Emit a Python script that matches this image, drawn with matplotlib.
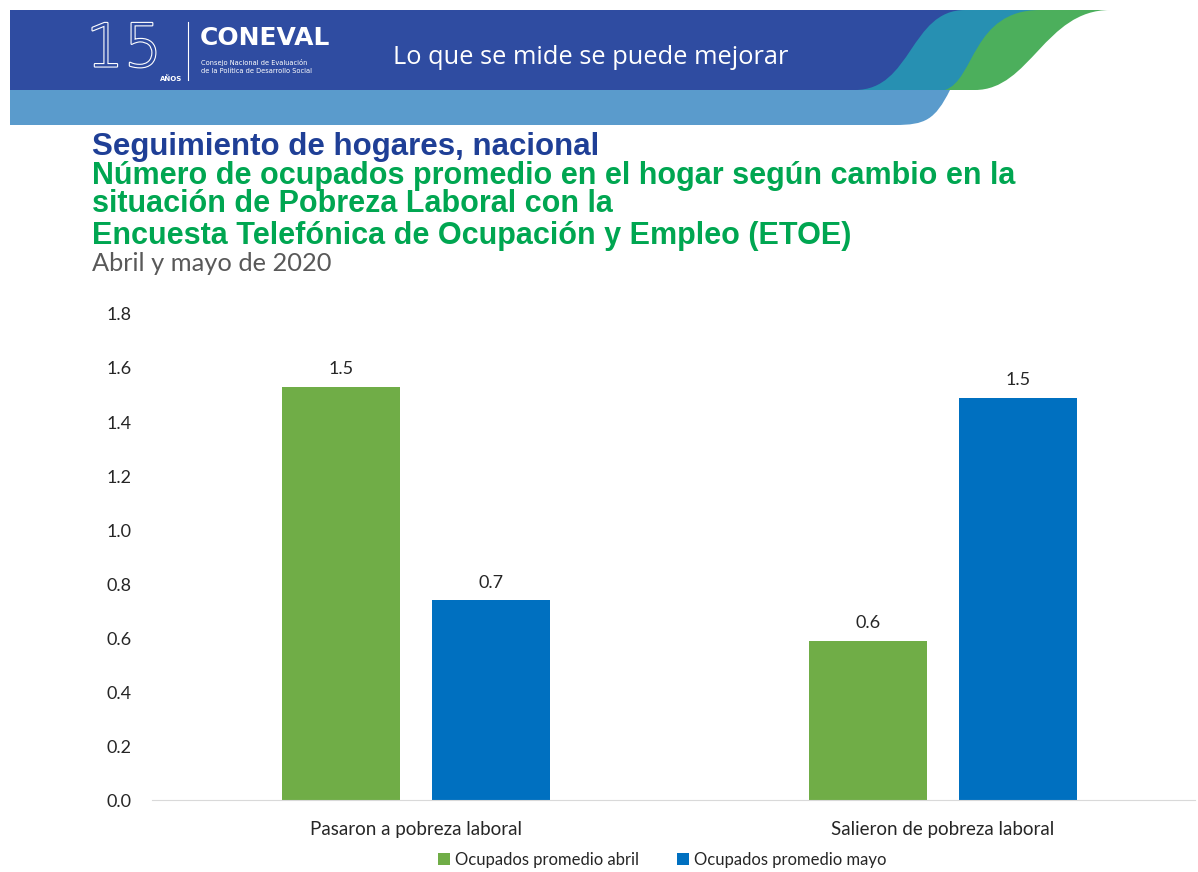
import numpy as np
import matplotlib
matplotlib.use('Agg')
import matplotlib.pyplot as plt
from matplotlib.path import Path
import matplotlib.patches as patches
import matplotlib.patheffects as pe

# chart data
categorias = ['Pasaron a pobreza laboral', 'Salieron de pobreza laboral']
abril = [1.53, 0.59]
mayo = [0.74, 1.49]
valores_abril_txt = ['1.5', '0.6']
valores_mayo_txt = ['0.7', '1.5']
series = ['Ocupados promedio abril', 'Ocupados promedio mayo']
yticks = [0.0, 0.2, 0.4, 0.6, 0.8, 1.0, 1.2, 1.4, 1.6, 1.8]

verde = '#70AD47'
azul = '#0070C0'
W, H = 1198, 872

fig = plt.figure(figsize=(W/100, H/100), dpi=100)

#background axis in pixel coords for the banner
bg = fig.add_axes([0, 0, 1, 1], zorder=0)
bg.set_xlim(0, W)
bg.set_ylim(H, 0)
bg.axis('off')

def wave(x_end_top, c1, c2, p3, y0, y1, color):
    verts = [(10, y0), (x_end_top, y0), c1, c2, p3, (10, y1), (10, y0)]
    codes = [Path.MOVETO, Path.LINETO, Path.CURVE4, Path.CURVE4, Path.CURVE4,
             Path.LINETO, Path.CLOSEPOLY]
    bg.add_patch(patches.PathPatch(Path(verts, codes), facecolor=color,
                                   edgecolor='none'))

wave(1110, (1045, 10), (1030, 90), (975, 90), 10, 90, '#4CAF5C')
wave(1040, (972, 10), (975, 80), (945, 90), 10, 90, '#2790B2')
wave(965, (910, 10), (912, 90), (855, 90), 10, 90, '#2F4CA1')
wave(950, (935, 120), (925, 125), (895, 125), 90, 125, '#5A9BCC')

#logo and tagline
bg.text(86, 50, '15', color='#2F4CA1', fontsize=43, fontweight='light',
        va='center', ha='left', family='DejaVu Sans',
        path_effects=[pe.withStroke(linewidth=1.6, foreground='white')])
bg.text(160, 79, 'AÑOS', color='white', fontsize=5, va='center', ha='left',
        fontweight='bold')
bg.plot([188, 188], [22, 80], color='white', lw=0.8)
bg.text(200, 38, 'CONEVAL', color='white', fontsize=18, fontweight='bold',
        va='center', ha='left', family='Liberation Sans Narrow')
bg.text(201, 62, 'Consejo Nacional de Evaluación', color='white', fontsize=4.8,
        va='center', ha='left')
bg.text(201, 71, 'de la Política de Desarrollo Social', color='white', fontsize=4.8,
        va='center', ha='left')
bg.text(393, 57, 'Lo que se mide se puede mejorar', color='white', fontsize=18.3,
        va='center', ha='left', family='Open Sans')

#titles
bg.text(92, 155, 'Seguimiento de hogares, nacional', color='#1F3F96', fontsize=22.5,
        fontweight='bold', family='Liberation Sans', va='baseline')
lineas = ['Número de ocupados promedio en el hogar según cambio en la',
          'situación de Pobreza Laboral con la',
          'Encuesta Telefónica de Ocupación y Empleo (ETOE)']
for yy, t in zip([184, 212, 244], lineas):
    bg.text(92, yy, t, color='#00A651', fontsize=22, fontweight='bold',
            family='Liberation Sans', va='baseline')
bg.text(92, 271, 'Abril y mayo de 2020', color='#595959', fontsize=18.3,
        family='Lato', va='baseline')

#the bar chart
ax = fig.add_axes([152/W, 1-800/H, (1195-152)/W, (800-314)/H], zorder=1)
ax.patch.set_alpha(0)
x = np.arange(len(categorias))
ancho = 0.224
off = 0.142
b1 = ax.bar(x - off, abril, ancho, color=verde, label=series[0])
b2 = ax.bar(x + off, mayo, ancho, color=azul, label=series[1])
for rect, t in zip(b1, valores_abril_txt):
    ax.annotate(t, (rect.get_x() + rect.get_width()/2, rect.get_height()),
                xytext=(0, 9), textcoords='offset points', ha='center',
                fontsize=13, color='#262626', family='Lato')
for rect, t in zip(b2, valores_mayo_txt):
    ax.annotate(t, (rect.get_x() + rect.get_width()/2, rect.get_height()),
                xytext=(0, 9), textcoords='offset points', ha='center',
                fontsize=13, color='#262626', family='Lato')

ax.set_xlim(-0.501, 1.478)
ax.set_ylim(0, 1.8)
ax.set_yticks(yticks)
ax.set_yticklabels(['%.1f' % v for v in yticks], family='Lato', fontsize=13,
                   color='#262626')
ax.set_xticks(x)
ax.set_xticklabels(categorias, family='Lato', fontsize=13.5, color='#262626')
ax.tick_params(axis='both', length=0)
ax.tick_params(axis='y', pad=15)
ax.tick_params(axis='x', pad=15)
for s in ['top', 'right', 'left']:
    ax.spines[s].set_visible(False)
ax.spines['bottom'].set_color('#D9D9D9')

fig.legend(handles=[b1, b2], labels=series, loc='center',
           bbox_to_anchor=(662/W, 1-860/H), ncol=2, frameon=False,
           handlelength=0.7, handleheight=0.7, handletextpad=0.3,
           columnspacing=2.3, prop={'family': 'Lato', 'size': 12},
           labelcolor='#262626')

fig.savefig('out.png', dpi=100)
